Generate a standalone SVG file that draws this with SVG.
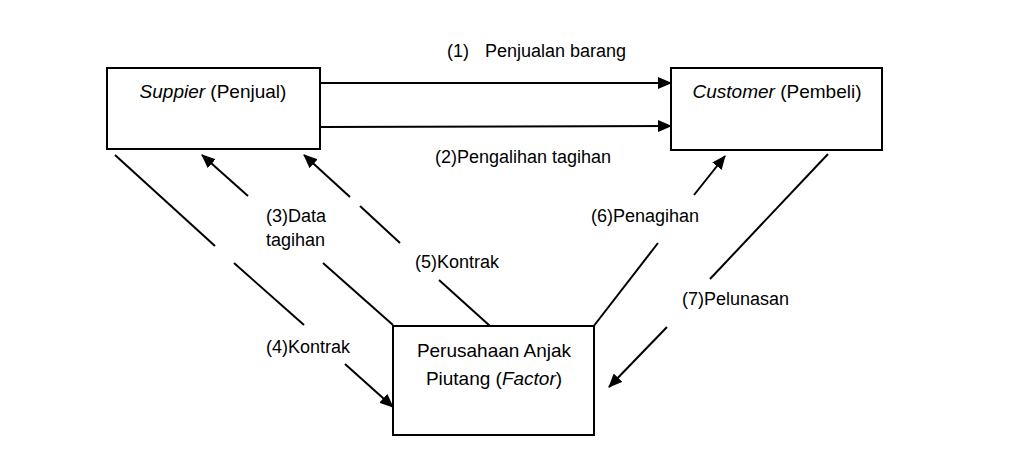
<svg xmlns="http://www.w3.org/2000/svg" width="1009" height="451" viewBox="0 0 1009 451">
<style>
.box{fill:#fff;stroke:#000;stroke-width:2}
.ln{stroke:#000;stroke-width:2;fill:none}
text{font-family:"Liberation Sans",Arial,sans-serif;font-size:18px;fill:#000}
.nt{font-size:19px}
</style>
<defs>
<marker id="ah" markerUnits="userSpaceOnUse" markerWidth="14" markerHeight="12" refX="13" refY="6" orient="auto">
<path d="M0,0 L14,6 L0,12 z" fill="#000"/>
</marker>
</defs>
<rect width="1009" height="451" fill="#fff"/>
<g id="supplier">
<rect class="box" x="107" y="68" width="213" height="81"/>
<text class="nt" x="213" y="98" text-anchor="middle"><tspan font-style="italic">Suppier</tspan> (Penjual)</text>
</g>
<g id="customer">
<rect class="box" x="671" y="68" width="211" height="82"/>
<text class="nt" x="777" y="98" text-anchor="middle"><tspan font-style="italic">Customer</tspan> (Pembeli)</text>
</g>
<g id="factor">
<rect class="box" x="393" y="326" width="201" height="109"/>
<text class="nt" x="494" y="357" text-anchor="middle">Perusahaan Anjak</text>
<text class="nt" x="494" y="385" text-anchor="middle">Piutang (<tspan font-style="italic">Factor</tspan>)</text>
</g>
<g id="connectors">
<line class="ln" x1="321" y1="83" x2="671" y2="83" marker-end="url(#ah)"/>
<line class="ln" x1="321" y1="127" x2="671" y2="126" marker-end="url(#ah)"/>
<line class="ln" x1="393" y1="325" x2="323" y2="263"/>
<line class="ln" x1="248" y1="196" x2="202" y2="155" marker-end="url(#ah)"/>
<line class="ln" x1="115" y1="155" x2="215" y2="246"/>
<line class="ln" x1="234" y1="263" x2="304" y2="325"/>
<line class="ln" x1="345" y1="364" x2="393" y2="407" marker-end="url(#ah)"/>
<line class="ln" x1="490" y1="326" x2="439" y2="280"/>
<line class="ln" x1="400" y1="243" x2="360" y2="206"/>
<line class="ln" x1="350" y1="197" x2="304" y2="155" marker-end="url(#ah)"/>
<line class="ln" x1="593" y1="327" x2="658" y2="243"/>
<line class="ln" x1="694" y1="195" x2="725" y2="156" marker-end="url(#ah)"/>
<line class="ln" x1="828" y1="154" x2="710" y2="279"/>
<line class="ln" x1="667" y1="327" x2="609" y2="387" marker-end="url(#ah)"/>
</g>
<g id="labels">
<text x="447" y="57">(1)</text>
<text x="485" y="57">Penjualan barang</text>
<text x="435" y="163">(2)Pengalihan tagihan</text>
<text x="266" y="222">(3)Data</text>
<text x="266" y="246">tagihan</text>
<text x="266" y="353">(4)Kontrak</text>
<text x="415" y="268">(5)Kontrak</text>
<text x="591" y="222">(6)Penagihan</text>
<text x="682" y="305">(7)Pelunasan</text>
</g>
</svg>
